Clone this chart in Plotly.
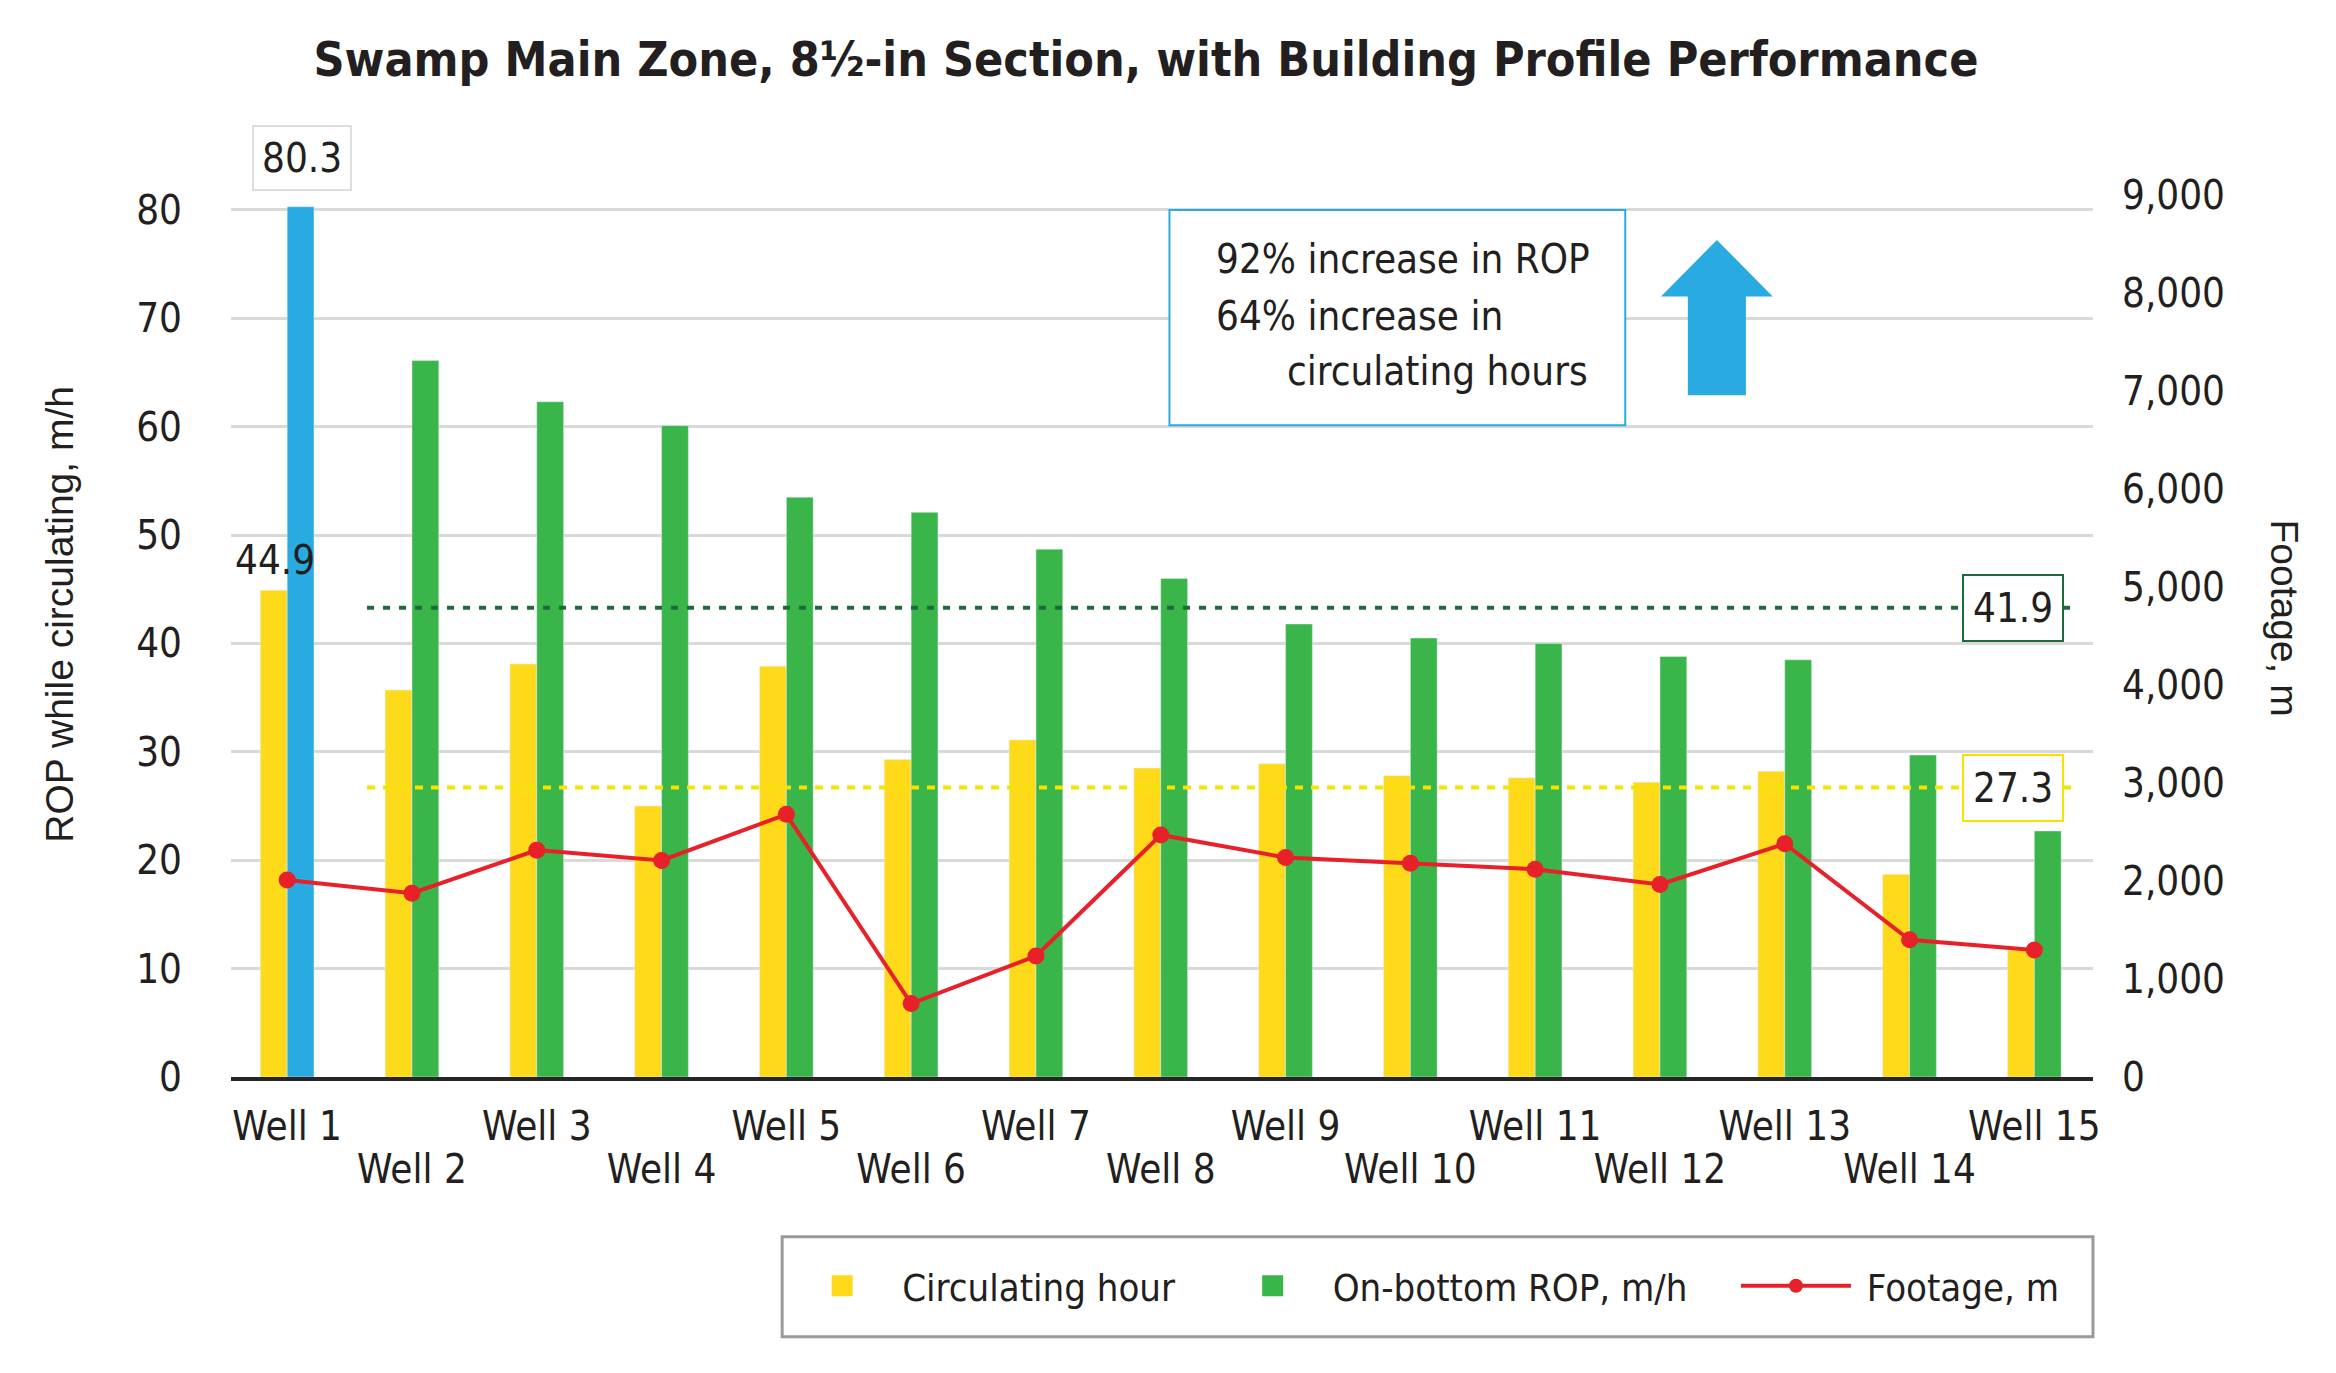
import plotly.graph_objects as go

# values
wells = ["Well %d" % i for i in range(1, 16)]
circ_hours = [44.9, 35.7, 38.1, 25.0, 37.9, 29.3, 31.1, 28.5, 28.9, 27.8, 27.6, 27.2, 28.2, 18.7, 11.7]
rop = [None, 66.1, 62.3, 60.1, 53.5, 52.1, 48.7, 46.0, 41.8, 40.5, 40.0, 38.8, 38.5, 29.7, 22.7]
rop_best = [80.3] + [None] * 14
footage = [2010, 1875, 2315, 2210, 2680, 750, 1235, 2470, 2240, 2180, 2120, 1965, 2380, 1400, 1295]
avg_rop_label, avg_circ_label = "41.9", "27.3"
avg_rop_pos, avg_circ_pos = 43.3, 26.7
y_left_ticks = list(range(0, 81, 10))
y_right_ticks = list(range(0, 9001, 1000))

FONT = "Liberation Sans Narrow, DejaVu Sans Condensed, Roboto Condensed, Arial Narrow, sans-serif"
TXT = "#231f20"
YELLOW = "#ffda1a"
GREEN = "#39b54a"
BLUE = "#29abe2"
RED = "#e8202a"
BW = 0.215
xr = [-0.45, 14.47]
NB = "\u00a0"

fig = go.Figure()
fig.add_trace(go.Bar(x=wells, y=circ_hours, name="Circulating hour", marker_color=YELLOW,
                     width=BW, offset=-BW, showlegend=False))
fig.add_trace(go.Bar(x=wells, y=rop, name="On-bottom ROP, m/h", marker_color=GREEN,
                     width=BW, offset=0, showlegend=False))
fig.add_trace(go.Bar(x=wells, y=rop_best, name="best", marker_color=BLUE,
                     width=BW, offset=0, showlegend=False))
fig.add_trace(go.Scatter(x=wells, y=footage, name="Footage, m", mode="lines+markers",
                         line=dict(color=RED, width=4), marker=dict(color=RED, size=17),
                         xaxis="x2", yaxis="y2", showlegend=False))

# legend entries (bigger swatches than the bar default)
for nm, col in [("Circulating hour" + NB * 3, YELLOW),
                ("On-bottom ROP, m/h" + NB * 4, GREEN)]:
    fig.add_trace(go.Scatter(x=[None], y=[None], name=nm, mode="markers",
                             marker=dict(symbol="square", size=16, color=col,
                                         line=dict(color=col, width=5))))
fig.add_trace(go.Scatter(x=[None], y=[None], name=NB + "Footage, m", mode="lines+markers",
                         line=dict(color=RED, width=4), marker=dict(color=RED, size=14)))

# average lines with their value boxes
for pos, lab, col, dash in [(avg_rop_pos, avg_rop_label, "#1d6b3a", "7px,9px"),
                             (avg_circ_pos, avg_circ_label, "#f5e400", "8px,8px")]:
    fig.add_shape(type="line", xref="x", yref="y", x0=0.64, x1=14.35, y0=pos, y1=pos,
                  line=dict(color=col, width=4, dash=dash), layer="above")
    fig.add_annotation(x=13.83, y=pos, xref="x", yref="y", text=lab, showarrow=False,
                       font=dict(family=FONT, size=40, color=TXT), bgcolor="white",
                       bordercolor=col, borderwidth=2, borderpad=9)

# data labels for well 1
fig.add_annotation(x="Well 1", y=1.042, yref="paper", text="80.3", showarrow=False, xshift=15,
                   yanchor="middle", font=dict(family=FONT, size=40, color=TXT), bgcolor="white",
                   bordercolor="#dddddd", borderwidth=2, borderpad=8)
fig.add_annotation(x="Well 1", y=47.7, text="44.9", showarrow=False, xshift=-12,
                   font=dict(family=FONT, size=40, color=TXT))

# callout box and arrow
fig.add_shape(type="rect", xref="paper", yref="paper", x0=0.504, x1=0.7488, y0=0.739, y1=0.983,
              line=dict(color=BLUE, width=2), fillcolor="white", layer="above")
for txt, xx, yy, anc in [("92% increase in ROP", 0.528, 0.927, "left"),
                         ("64% increase in", 0.528, 0.863, "left"),
                         ("circulating hours", 0.730, 0.800, "right")]:
    fig.add_annotation(xref="paper", yref="paper", x=xx, y=yy, xanchor=anc, yanchor="middle",
                       text=txt, showarrow=False, font=dict(family=FONT, size=40, color=TXT))
fig.add_shape(type="path", xref="paper", yref="paper",
              path="M 0.7824 0.773 L 0.7824 0.885 L 0.768 0.885 L 0.798 0.949 L 0.828 0.885 "
                   "L 0.8136 0.885 L 0.8136 0.773 Z",
              fillcolor=BLUE, line=dict(width=0), layer="above")

# legend frame
fig.add_shape(type="rect", xref="paper", yref="paper", x0=0.296, x1=1.0, y0=-0.2944, y1=-0.181,
              line=dict(color="#9a9a9a", width=3), fillcolor="white", layer="below")

# axis titles
fig.add_annotation(xref="paper", yref="paper", x=-0.092, y=0.525, textangle=-90,
                   xanchor="center", yanchor="middle",
                   text="ROP while circulating, m/h", showarrow=False,
                   font=dict(family="Liberation Sans, Arial, sans-serif", size=39, color=TXT))
fig.add_annotation(xref="paper", yref="paper", x=1.1026, y=0.521, textangle=90,
                   xanchor="center", yanchor="middle",
                   text="Footage, m", showarrow=False,
                   font=dict(family="Liberation Sans, Arial, sans-serif", size=39, color=TXT))

fig.update_layout(
    width=2320, height=1357,
    margin=dict(l=223, r=235, t=187, b=288),
    plot_bgcolor="white", paper_bgcolor="white",
    barmode="overlay",
    title=dict(text="<b>Swamp Main Zone, 8½-in Section, with Building Profile Performance</b>",
               x=0.4905, xanchor="center", y=0.9625, yanchor="middle",
               font=dict(family=FONT, size=48, color=TXT)),
    xaxis=dict(type="category", categoryarray=wells, range=xr,
               tickvals=wells[0::2], ticktext=wells[0::2], ticks="",
               showline=True, linecolor="#262626", linewidth=4,
               ticklabelstandoff=11, tickfont=dict(family=FONT, size=40, color=TXT)),
    xaxis2=dict(type="category", categoryarray=wells, range=xr, overlaying="x",
                tickvals=wells[1::2], ticktext=wells[1::2], ticks="", side="bottom",
                showline=False, showgrid=False,
                ticklabelstandoff=65, tickfont=dict(family=FONT, size=40, color=TXT)),
    yaxis=dict(range=[0, 81.38], tickvals=y_left_ticks, showgrid=True,
               gridcolor="#d9d9d9", gridwidth=3, zeroline=False,
               ticklabelstandoff=48, tickfont=dict(family=FONT, size=40, color=TXT)),
    yaxis2=dict(range=[0, 9000], tickvals=y_right_ticks, tickformat=",d",
                overlaying="y", side="right", showgrid=False, zeroline=False,
                ticklabelstandoff=28, tickfont=dict(family=FONT, size=40, color=TXT)),
    legend=dict(orientation="h", x=0.296, y=-0.237, xanchor="left", yanchor="middle",
                borderwidth=0, bgcolor="rgba(0,0,0,0)",
                font=dict(family=FONT, size=38, color=TXT), itemwidth=110),
)

fig.write_html("out.html")
